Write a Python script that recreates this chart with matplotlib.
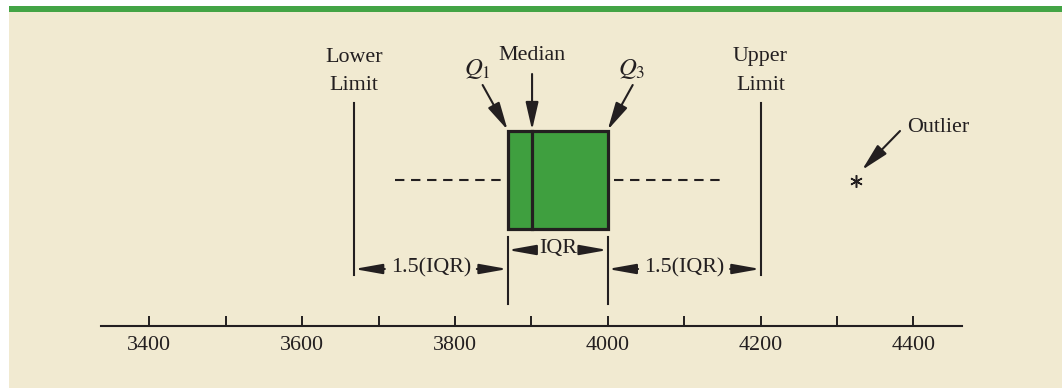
import matplotlib
matplotlib.use("Agg")
import matplotlib.pyplot as plt
from matplotlib.patches import Rectangle

# ---- data ----
tick_values = [3400, 3500, 3600, 3700, 3800, 3900, 4000, 4100, 4200, 4300, 4400]
tick_labels = ["3400", "", "3600", "", "3800", "", "4000", "", "4200", "", "4400"]
lower_limit = 3668
q1 = 3869
median = 3901
q3 = 4000
upper_limit = 4200
whisker_low = 3721
whisker_high = 4147
outlier = 4325

# ---- layout ----
W, H = 1062, 388
DPI = 100
PXU = 0.764          # pixels per data unit
X0PX = 149.3         # pixel of value 3400
def v(px):
    return 3400 + (px - X0PX) / PXU

INK = "#231f20"
GREEN = "#3f9f3f"
BG = "#f1ead1"

plt.rcParams["font.family"] = ["Liberation Serif", "DejaVu Serif"]
plt.rcParams["mathtext.fontset"] = "stix"
FS = 15.8

fig = plt.figure(figsize=(W / DPI, H / DPI), dpi=DPI, facecolor="white")
fig.patches.append(Rectangle((9 / W, 0), 1 - 9 / W, (H - 12) / H,
                             transform=fig.transFigure, facecolor=BG, edgecolor="none", zorder=-10))
fig.patches.append(Rectangle((9 / W, (H - 12) / H), 1 - 9 / W, 6 / H,
                             transform=fig.transFigure, facecolor="#43a445", edgecolor="none", zorder=-10))

ax = fig.add_axes([0, 0, 1, 1])
ax.set_xlim(v(0), v(W))
ax.set_ylim(H, 0)
ax.axis("off")
ax.patch.set_alpha(0)

# number line axis
ax2 = fig.add_axes([101 / W, (H - 326) / H, 861 / W, 0.3])
ax2.set_xlim(v(101), v(962))
ax2.patch.set_alpha(0)
for s in ["top", "left", "right"]:
    ax2.spines[s].set_visible(False)
ax2.spines["bottom"].set_linewidth(1.5)
ax2.spines["bottom"].set_color(INK)
ax2.set_yticks([])
ax2.set_xticks(tick_values)
ax2.set_xticklabels(tick_labels)
ax2.tick_params(axis="x", direction="in", length=7.5, width=1.4, color=INK,
                labelsize=FS, labelcolor=INK, pad=7)

# box
ybt, ybb, yc = 131, 229, 180
ax.add_patch(Rectangle((q1, ybt), q3 - q1, ybb - ybt, facecolor=GREEN,
                       edgecolor=INK, linewidth=2.3, zorder=3))
ax.plot([median, median], [ybt, ybb], color=INK, lw=2.3, zorder=4)

# whiskers (dashed)
gap = 8
ax.plot([whisker_low, q1 - gap], [yc, yc], color=INK, lw=1.5, ls=(0, (4.5, 3.2)))
ax.plot([q3 + gap, whisker_high], [yc, yc], color=INK, lw=1.5, ls=(0, (4.5, 3.2)))

# limits
for lim in (lower_limit, upper_limit):
    ax.plot([lim, lim], [103, 275], color=INK, lw=1.5)
# Q1/Q3 extension lines
for q in (q1, q3):
    ax.plot([q, q], [237, 304], color=INK, lw=1.5)

# outlier
ax.plot([outlier], [yc + 1], marker=(6, 2, 0), markersize=9, mew=1.1, color=INK, zorder=5)

# labels
tk = dict(fontsize=FS, color=INK, ha="center", va="center")
ax.text(lower_limit, 57, "Lower", **tk)
ax.text(lower_limit, 85, "Limit", **tk)
ax.text(upper_limit, 57, "Upper", **tk)
ax.text(upper_limit, 85, "Limit", **tk)
ax.text(median, 56, "Median", **tk)
ax.text(v(477), 69, r"$Q_1$", fontsize=FS + 2, color=INK, ha="center", va="center")
ax.text(v(632), 69, r"$Q_3$", fontsize=FS + 2, color=INK, ha="center", va="center")
ax.text(v(907), 128, "Outlier", fontsize=FS, color=INK, ha="left", va="center")

ap = dict(arrowstyle="-|>,head_length=1.3,head_width=0.3", color=INK, lw=1.5,
          shrinkA=0, shrinkB=0, mutation_scale=13)
ax.annotate("", xy=(q1, ybt - 1), xytext=(q1 - 25 / PXU, 85), arrowprops=ap)
ax.annotate("", xy=(median, ybt - 1), xytext=(median, 74), arrowprops=ap)
ax.annotate("", xy=(q3, ybt - 1), xytext=(q3 + 25 / PXU, 85), arrowprops=ap)
ax.annotate("", xy=(outlier + 6 / PXU, 170), xytext=(outlier + 44 / PXU, 131), arrowprops=ap)

# dimension arrows
dp = dict(arrowstyle="-|>,head_length=1.4,head_width=0.25", color=INK, lw=1.5,
          shrinkA=0, shrinkB=0, mutation_scale=12)
def dim(a, b, y, label, half_px):
    mid = (a + b) / 2
    ax.text(mid, y - 1, label, **tk)
    ax.annotate("", xy=(a, y), xytext=(mid - half_px / PXU, y), arrowprops=dp)
    ax.annotate("", xy=(b, y), xytext=(mid + half_px / PXU, y), arrowprops=dp)

dim(lower_limit, q1, 269, "1.5(IQR)", 46)
dim(q1, q3, 250, "IQR", 22)
dim(q3, upper_limit, 269, "1.5(IQR)", 46)

fig.savefig("out.png", dpi=DPI, facecolor="white")
